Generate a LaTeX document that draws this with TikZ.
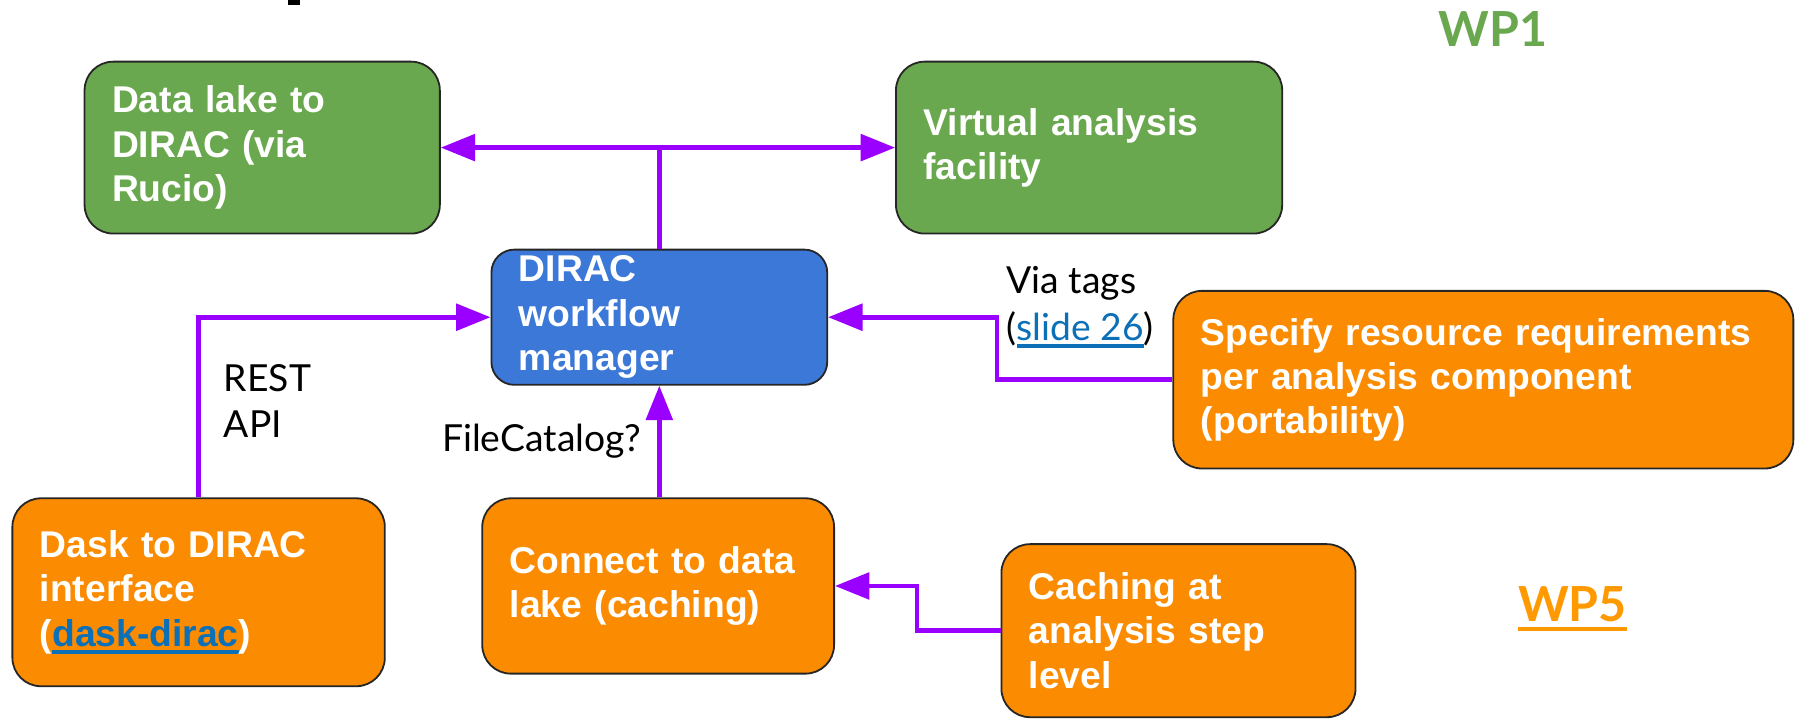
\documentclass[tikz,border=0pt]{standalone}
\usepackage{fontspec}
\setmainfont{Liberation Sans}
\newfontfamily\labelfont{Lato}
\usepackage{xcolor}
\usetikzlibrary{arrows.meta, calc}

\definecolor{wpgreen}{HTML}{6AA84F}
\definecolor{wporange}{HTML}{FB8B00}
\definecolor{wpfivetext}{HTML}{FF9900}
\definecolor{diracblue}{HTML}{3C78D8}
\definecolor{flowpurple}{HTML}{9900FF}
\definecolor{linkblue}{HTML}{0B70B8}

% underlined link text in a given colour
\newsavebox\ulbox
\newcommand{\ulink}[2]{\sbox\ulbox{\color{#1}#2}\rlap{\color{#1}\rule[-0.2em]{\wd\ulbox}{0.09em}}\usebox\ulbox}

\begin{document}
\begin{tikzpicture}[x=0.2mm, y=-0.2mm,
    box/.style={draw=black!85, line width=0.9pt, rounded corners=5mm, text=white,
        font=\bfseries\fontsize{18.5}{22}\selectfont, align=left, anchor=north west,
        inner xsep=4.8mm, inner ysep=0pt},
    flow/.style={draw=flowpurple, line width=2.3pt, -{Triangle[length=6mm, width=4.6mm]}},
    note/.style={font=\labelfont\fontsize{18.5}{23}\selectfont, align=left, inner sep=0pt},
    wplabel/.style={font=\labelfont\bfseries\fontsize{24}{28}\selectfont, inner sep=0pt}
]

    % Frame of the slide crop
    \useasboundingbox (0,0) rectangle (1568,627);
    \fill[black] (251,0) rectangle (262,4); % bit of the cut-off title

    % WP1 boxes
    \node[box, fill=wpgreen, text width=52.4mm, minimum height=30mm] (lake) at (73,53) {Data lake to\\DIRAC (via\\Rucio)};
    \node[box, fill=wpgreen, text width=57.8mm, minimum height=30mm] (vaf) at (781,53) {Virtual analysis\\facility};

    % The workflow manager
    \node[box, fill=diracblue, rounded corners=4mm, text width=49mm, minimum height=23.6mm] (dwm) at (428,217) {DIRAC\\workflow\\manager};

    % WP5 boxes
    \node[box, fill=wporange, text width=98.6mm, minimum height=31mm] (spec) at (1023,253) {Specify resource requirements\\per analysis component\\(portability)};
    \node[box, fill=wporange, text width=55.4mm, minimum height=32.8mm] (dask) at (10,434) {Dask to DIRAC\\interface\\(\ulink{linkblue}{dask-dirac})};
    \node[box, fill=wporange, text width=51.8mm, minimum height=30.6mm] (conn) at (420,434) {Connect to data\\lake (caching)};
    \node[box, fill=wporange, text width=52.2mm, minimum height=30.2mm] (cache) at (873,474) {Caching at\\analysis step\\level};

    % Work package labels
    \node[wplabel, text=wpgreen] (wpone) at (1303,25) {WP1};
    \node[wplabel, text=wpfivetext] (wpfive) at (1372,531) {\ulink{wpfivetext}{WP5}};

    % Connectors
    \draw[flow, -] (dwm.north) -- (dwm.north |- lake.east) coordinate (hub);
    \draw[flow] (hub) -- (lake.east);
    \draw[flow] (hub) -- (vaf.west);
    \draw[flow] (dask.north) |- (dwm.west);
    \draw[flow] (dwm.south |- conn.north) -- (dwm.south);
    \draw[flow] (spec.west) -- ++(-153,0) |- (dwm.east);
    \draw[flow] (cache.west) -- ++(-73,0) |- (conn.east);

    % Connector notes
    \node[note, anchor=west] (rest) at (195,350) {REST\\API};
    \node[note, anchor=east] (catalog) at (560,385) {FileCatalog?};
    \node[note, anchor=west] (tags) at (878,268) {Via tags\\(\ulink{linkblue}{slide 26})};

\end{tikzpicture}
\end{document}
